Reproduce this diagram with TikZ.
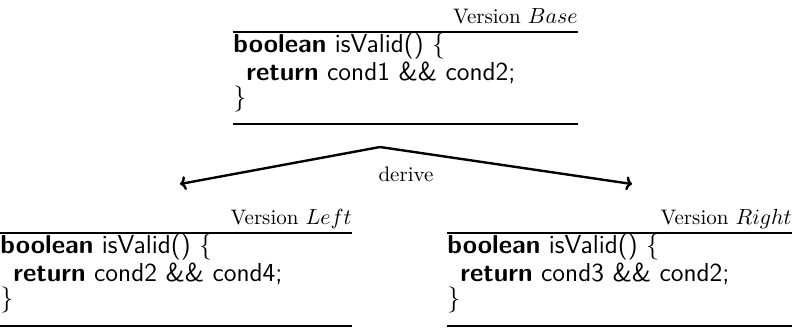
\documentclass[tikz,border=0pt]{standalone}
\usepackage{amsmath, amssymb}
\usepackage{tikz}
\usetikzlibrary{arrows.meta,positioning}

\tikzset{
  vtitle/.style={anchor=base east, inner sep=0pt, font=\fontsize{10.5}{12.6}\selectfont},
  vrule/.style={line width=0.6pt},
  vcode/.style={anchor=north west, inner sep=0pt, align=left, font=\fontsize{13}{12.5}\sffamily},
  derivearrow/.style={line width=1.2pt, {To[length=3pt,width=7pt]}-{To[length=3pt,width=7pt]}}
}
\newcommand{\codeblock}[2]{\textbf{boolean} isValid() \{\\\hspace*{0.5em}\textbf{return} #1 \&\& #2;\\\}}

\begin{document}
\begin{tikzpicture}[x=0.5pt, y=-0.5pt]
  \useasboundingbox (0,0) rectangle (792,329);

  % Version Base
  \node[vtitle] (basetitle) at (578,23) {Version $Base$};
  \draw[vrule] (233,32) -- (578,32);
  \node[vcode] (basecode) at (233,33) {\codeblock{cond1}{cond2}};
  \draw[vrule] (233,124) -- (578,124);

  % Pfeile
  \coordinate (fork) at (380,147);
  \coordinate (lefttip) at (180,184);
  \coordinate (righttip) at (632,184);
  \draw[derivearrow] (lefttip) -- (fork) -- (righttip);
  \node[anchor=base, inner sep=0pt, font=\fontsize{10.5}{12.6}\selectfont] (derive) at (406,181) {derive};

  % Version Left
  \node[vtitle] (lefttitle) at (352,224) {Version $Left$};
  \draw[vrule] (0,233) -- (352,233);
  \node[vcode] (leftcode) at (0,234) {\codeblock{cond2}{cond4}};
  \draw[vrule] (0,326) -- (352,326);

  % Version Right
  \node[vtitle] (righttitle) at (792,224) {Version $Right$};
  \draw[vrule] (447,233) -- (792,233);
  \node[vcode] (rightcode) at (447,234) {\codeblock{cond3}{cond2}};
  \draw[vrule] (447,326) -- (792,326);
\end{tikzpicture}
\end{document}
